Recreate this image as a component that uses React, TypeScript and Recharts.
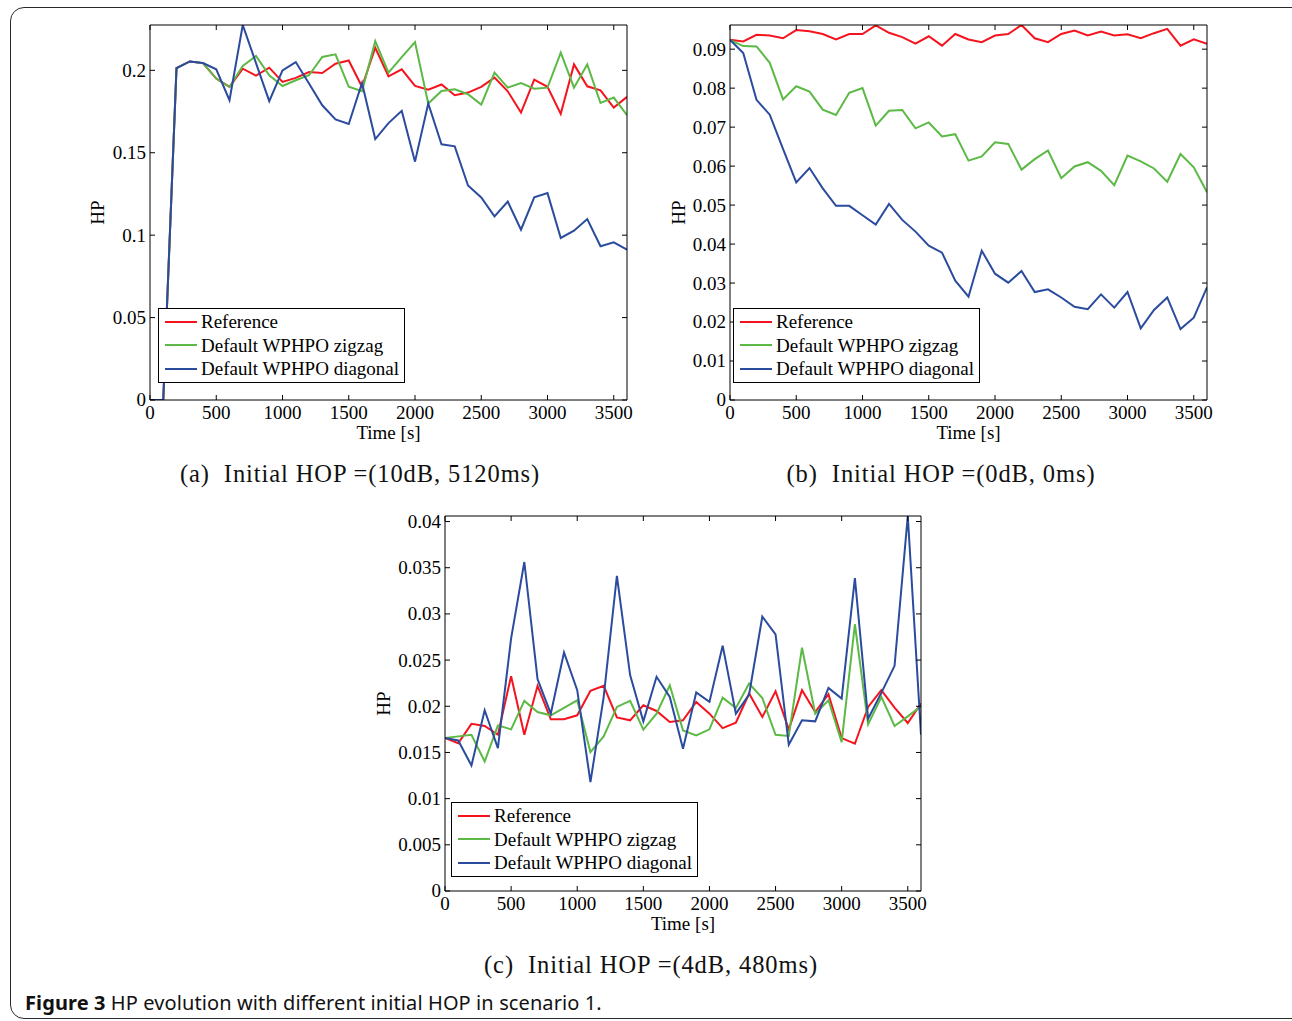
import { Legend, Line, LineChart, XAxis, YAxis } from "recharts";

// time axis, seconds
const TIME = [
  0, 100, 200, 300, 400, 500, 600, 700, 800, 900, 1000, 1100, 1200, 1300, 1400, 1500, 1600, 1700, 1800,
  1900, 2000, 2100, 2200, 2300, 2400, 2500, 2600, 2700, 2800, 2900, 3000, 3100, 3200, 3300, 3400, 3500, 3600,
];

// (a) initial HOP = (10dB, 5120ms)
const A_REFERENCE = [
  0, 0, 0.2014, 0.2054, 0.2044, 0.195, 0.19, 0.201, 0.1968, 0.2016, 0.193, 0.1954, 0.199, 0.1984, 0.204, 0.206, 0.19, 0.2137, 0.1964,
  0.2006, 0.1905, 0.1883, 0.1914, 0.1849, 0.1865, 0.19, 0.1956, 0.1873, 0.1744, 0.1944, 0.19, 0.1736, 0.2036, 0.1903, 0.1879, 0.1774, 0.1839,
];
const A_ZIGZAG = [
  0, 0, 0.2014, 0.2054, 0.2044, 0.195, 0.1899, 0.2026, 0.2087, 0.197, 0.1905, 0.194, 0.197, 0.2081, 0.2097, 0.19, 0.1873, 0.2177, 0.1986,
  0.208, 0.2171, 0.1799, 0.1875, 0.1885, 0.1855, 0.1792, 0.1986, 0.1895, 0.1923, 0.1889, 0.1895, 0.2107, 0.1895, 0.2036, 0.1802, 0.1835, 0.1728,
];
const A_DIAGONAL = [
  0, 0, 0.2014, 0.2054, 0.2044, 0.2006, 0.1819, 0.2275, 0.2044, 0.1813, 0.2, 0.205, 0.192, 0.1788, 0.1702, 0.1674, 0.1923, 0.1583, 0.168,
  0.1754, 0.1446, 0.1799, 0.1551, 0.1539, 0.1301, 0.1229, 0.1114, 0.1204, 0.1033, 0.1229, 0.1255, 0.0983, 0.1027, 0.1098, 0.0933, 0.0957, 0.0912,
];

// (b) initial HOP = (0dB, 0ms)
const B_REFERENCE = [
  0.0924, 0.092, 0.0937, 0.0935, 0.0928, 0.0949, 0.0946, 0.0939, 0.0925, 0.0939, 0.0939, 0.0961, 0.0942, 0.0931, 0.0914, 0.0933, 0.0909, 0.0939, 0.0925,
  0.0918, 0.0935, 0.0939, 0.0962, 0.0928, 0.0918, 0.0939, 0.0948, 0.0935, 0.0945, 0.0935, 0.0938, 0.0928, 0.0941, 0.0952, 0.0909, 0.0925, 0.0914,
];
const B_ZIGZAG = [
  0.0924, 0.0908, 0.0907, 0.0865, 0.0771, 0.0805, 0.0791, 0.0745, 0.0731, 0.0788, 0.08, 0.0704, 0.0742, 0.0744, 0.0697, 0.0712, 0.0676, 0.0682, 0.0614,
  0.0625, 0.0661, 0.0657, 0.0591, 0.0618, 0.064, 0.0569, 0.0599, 0.061, 0.0588, 0.0551, 0.0627, 0.0612, 0.0594, 0.056, 0.0631, 0.0597, 0.0533,
];
const B_DIAGONAL = [
  0.0924, 0.089, 0.077, 0.0732, 0.0644, 0.0558, 0.0595, 0.0543, 0.0498, 0.0498, 0.0474, 0.045, 0.0503, 0.0462, 0.0432, 0.0396, 0.0378, 0.0306, 0.0265,
  0.0383, 0.0324, 0.0301, 0.0331, 0.0277, 0.0284, 0.0263, 0.0239, 0.0233, 0.0271, 0.0237, 0.0277, 0.0184, 0.0231, 0.0263, 0.0182, 0.0211, 0.0289,
];

// (c) initial HOP = (4dB, 480ms)
const C_REFERENCE = [
  0.01656, 0.016, 0.0181, 0.01786, 0.01692, 0.02326, 0.01692, 0.02221, 0.01859, 0.01859, 0.01902, 0.02167, 0.02221, 0.0188, 0.01848, 0.02011, 0.01949, 0.0183, 0.01848,
  0.02047, 0.0192, 0.01764, 0.01822, 0.02138, 0.01884, 0.02163, 0.0175, 0.02174, 0.01938, 0.0213, 0.01656, 0.01594, 0.01993, 0.02174, 0.01986, 0.01819, 0.02029,
];
const C_ZIGZAG = [
  0.01656, 0.01674, 0.01692, 0.01402, 0.01793, 0.0175, 0.02058, 0.01938, 0.01902, 0.01982, 0.02065, 0.01504, 0.01674, 0.01993, 0.02058, 0.01746, 0.0192, 0.02228, 0.01739,
  0.01685, 0.0175, 0.02094, 0.01982, 0.02246, 0.0209, 0.01692, 0.01678, 0.02634, 0.0192, 0.02065, 0.01612, 0.02888, 0.01804, 0.02101, 0.01786, 0.01891, 0.02,
];
const C_DIAGONAL = [
  0.01656, 0.0163, 0.01359, 0.01957, 0.01547, 0.02736, 0.03562, 0.02293, 0.0192, 0.02583, 0.02174, 0.01178, 0.021, 0.03413, 0.02337, 0.01837, 0.02319, 0.02101, 0.0154,
  0.02149, 0.02047, 0.02656, 0.0192, 0.02127, 0.02971, 0.02779, 0.01583, 0.01848, 0.01837, 0.02199, 0.02083, 0.03388, 0.01866, 0.02145, 0.02438, 0.0406, 0.01692,
];

const SERIES_NAMES = ["Reference", "Default WPHPO zigzag", "Default WPHPO diagonal"];
const SERIES_COLORS = ["#f5141e", "#5cb946", "#2a4b9e"];

const X_TICKS = [0, 500, 1000, 1500, 2000, 2500, 3000, 3500];
const A_Y_TICKS = [0, 0.05, 0.1, 0.15, 0.2];
const B_Y_TICKS = [0, 0.01, 0.02, 0.03, 0.04, 0.05, 0.06, 0.07, 0.08, 0.09];
const C_Y_TICKS = [0, 0.005, 0.01, 0.015, 0.02, 0.025, 0.03, 0.035, 0.04];

const SUBCAPTIONS = [
  "(a)  Initial HOP =(10dB, 5120ms)",
  "(b)  Initial HOP =(0dB, 0ms)",
  "(c)  Initial HOP =(4dB, 480ms)",
];

const SERIF = '"Liberation Serif", "Times New Roman", serif';
const TICK_LEN = 5;
const tickText = { fontFamily: SERIF, fontSize: 19, fill: "#000" };

function toRows(ref: number[], zig: number[], diag: number[]) {
  return TIME.map((t, i) => ({ t, ref: ref[i], zigzag: zig[i], diagonal: diag[i] }));
}

function BottomTick({ x, y, payload }: any) {
  return (
    <g>
      <line x1={x} y1={y} x2={x} y2={y - TICK_LEN} stroke="#000" />
      <text x={x} y={y + 19} textAnchor="middle" {...tickText}>
        {payload.value}
      </text>
    </g>
  );
}

function TopTick({ x, y }: any) {
  return <line x1={x} y1={y} x2={x} y2={y + TICK_LEN} stroke="#000" />;
}

function LeftTick({ x, y, payload }: any) {
  return (
    <g>
      <line x1={x} y1={y} x2={x + TICK_LEN} y2={y} stroke="#000" />
      <text x={x - 4} y={y} dy="0.34em" textAnchor="end" {...tickText}>
        {payload.value}
      </text>
    </g>
  );
}

function RightTick({ x, y }: any) {
  return <line x1={x} y1={y} x2={x - TICK_LEN} y2={y} stroke="#000" />;
}

function LegendBox({ payload }: any) {
  const items = [...(payload || [])].sort(
    (a: any, b: any) => SERIES_NAMES.indexOf(a.value) - SERIES_NAMES.indexOf(b.value)
  );
  return (
    <div style={{ border: "1px solid #000", background: "#fff", padding: "1px 5px 1px 6px" }}>
      {items.map((p: any) => (
        <div key={p.value} style={{ display: "flex", alignItems: "center", height: 23.5 }}>
          <svg width={32} height={4} style={{ display: "block" }}>
            <line x1={0} y1={2} x2={32} y2={2} stroke={p.color} strokeWidth={2} />
          </svg>
          <span style={{ marginLeft: 4, fontFamily: SERIF, fontSize: 19, lineHeight: "23px", whiteSpace: "nowrap" }}>
            {p.value}
          </span>
        </div>
      ))}
    </div>
  );
}

type PanelProps = {
  rows: { t: number; ref: number; zigzag: number; diagonal: number }[];
  yMax: number;
  yTicks: number[];
  hpX: number;
  legendX: number;
  legendY: number;
  left: number;
  top: number;
  width: number;
  marginLeft: number;
  rightMargin: number;
};

function Panel({ rows, yMax, yTicks, hpX, legendX, legendY, left, top, width, marginLeft, rightMargin }: PanelProps) {
  return (
    <div style={{ position: "absolute", left, top }}>
      <LineChart width={width} height={450} data={rows} margin={{ top: 20, right: rightMargin, bottom: 5, left: marginLeft }}>
        <XAxis
          dataKey="t"
          type="number"
          domain={[0, 3600]}
          allowDataOverflow
          ticks={X_TICKS}
          height={45}
          tickSize={0}
          tickMargin={0}
          tickLine={false}
          axisLine={{ stroke: "#000" }}
          tick={<BottomTick />}
          interval={0}
          label={(props: any) => {
            const vb = props.viewBox || { x: marginLeft + 60, y: 400, width: 477 };
            return (
              <text x={vb.x + vb.width / 2} y={vb.y + 32} textAnchor="middle" dominantBaseline="central" {...tickText}>
                Time [s]
              </text>
            );
          }}
        />
        <XAxis
          xAxisId="top"
          orientation="top"
          dataKey="t"
          type="number"
          domain={[0, 3600]}
          allowDataOverflow
          ticks={X_TICKS}
          height={5}
          tickSize={0}
          tickMargin={0}
          tickLine={false}
          axisLine={{ stroke: "#000" }}
          tick={<TopTick />}
          interval={0}
        />
        <YAxis
          type="number"
          domain={[0, yMax]}
          allowDataOverflow
          ticks={yTicks}
          width={60}
          tickSize={0}
          tickMargin={0}
          tickLine={false}
          axisLine={{ stroke: "#000" }}
          tick={<LeftTick />}
          interval={0}
          label={(props: any) => {
            const vb = props.viewBox || { x: marginLeft, y: 25, height: 375 };
            const cx = vb.x + hpX;
            const cy = vb.y + vb.height / 2;
            return (
              <text
                x={cx}
                y={cy}
                transform={`rotate(-90 ${cx} ${cy})`}
                textAnchor="middle"
                dominantBaseline="central"
                {...tickText}
              >
                HP
              </text>
            );
          }}
        />
        <YAxis
          yAxisId="right"
          orientation="right"
          type="number"
          domain={[0, yMax]}
          allowDataOverflow
          ticks={yTicks}
          width={5}
          tickSize={0}
          tickMargin={0}
          tickLine={false}
          axisLine={{ stroke: "#000" }}
          tick={<RightTick />}
          interval={0}
        />
        <Legend
          layout="vertical"
          align="center"
          verticalAlign="middle"
          content={<LegendBox />}
          wrapperStyle={{ left: legendX, top: legendY, width: "auto", height: "auto" }}
        />
        <Line dataKey="ref" name={SERIES_NAMES[0]} stroke={SERIES_COLORS[0]} strokeWidth={2} dot={false} type="linear" isAnimationActive={false} />
        <Line dataKey="zigzag" name={SERIES_NAMES[1]} stroke={SERIES_COLORS[1]} strokeWidth={2} dot={false} type="linear" isAnimationActive={false} />
        <Line dataKey="diagonal" name={SERIES_NAMES[2]} stroke={SERIES_COLORS[2]} strokeWidth={2} dot={false} type="linear" isAnimationActive={false} />
      </LineChart>
    </div>
  );
}

const subStyle = {
  position: "absolute" as const,
  fontFamily: SERIF,
  fontSize: 24.5,
  letterSpacing: 0.9,
  whiteSpace: "pre" as const,
  transform: "translate(-50%, -50%)",
  color: "#111",
};

export default function App() {
  return (
    <div style={{ position: "absolute", left: 0, top: 0, width: 1292, height: 1021, background: "#fff", overflow: "hidden" }}>
      <div
        style={{
          position: "absolute",
          left: 10,
          top: 7,
          width: 1320,
          height: 1012,
          border: "1.5px solid #2a2a2a",
          borderRadius: 14,
          boxSizing: "border-box",
        }}
      />
      <Panel rows={toRows(A_REFERENCE, A_ZIGZAG, A_DIAGONAL)} yMax={0.2275} yTicks={A_Y_TICKS} hpX={7} legendX={78} legendY={308} left={80} top={0} width={560} marginLeft={10} rightMargin={8} />
      <Panel rows={toRows(B_REFERENCE, B_ZIGZAG, B_DIAGONAL)} yMax={0.0962} yTicks={B_Y_TICKS} hpX={8} legendX={73} legendY={308} left={660} top={0} width={560} marginLeft={10} rightMargin={8} />
      <Panel rows={toRows(C_REFERENCE, C_ZIGZAG, C_DIAGONAL)} yMax={0.0406} yTicks={C_Y_TICKS} hpX={-2} legendX={86} legendY={311} left={365} top={491} width={570} marginLeft={20} rightMargin={9} />
      <div style={{ ...subStyle, left: 360, top: 474 }}>{SUBCAPTIONS[0]}</div>
      <div style={{ ...subStyle, left: 941, top: 474 }}>{SUBCAPTIONS[1]}</div>
      <div style={{ ...subStyle, left: 651, top: 965 }}>{SUBCAPTIONS[2]}</div>
      <div
        style={{
          position: "absolute",
          left: 25,
          top: 990,
          fontFamily: "'Noto Sans', sans-serif",
          fontSize: 20,
          letterSpacing: 0.1,
          lineHeight: "26px",
          color: "#111",
          whiteSpace: "nowrap",
        }}
      >
        <b>Figure 3</b> HP evolution with different initial HOP in scenario 1.
      </div>
    </div>
  );
}
